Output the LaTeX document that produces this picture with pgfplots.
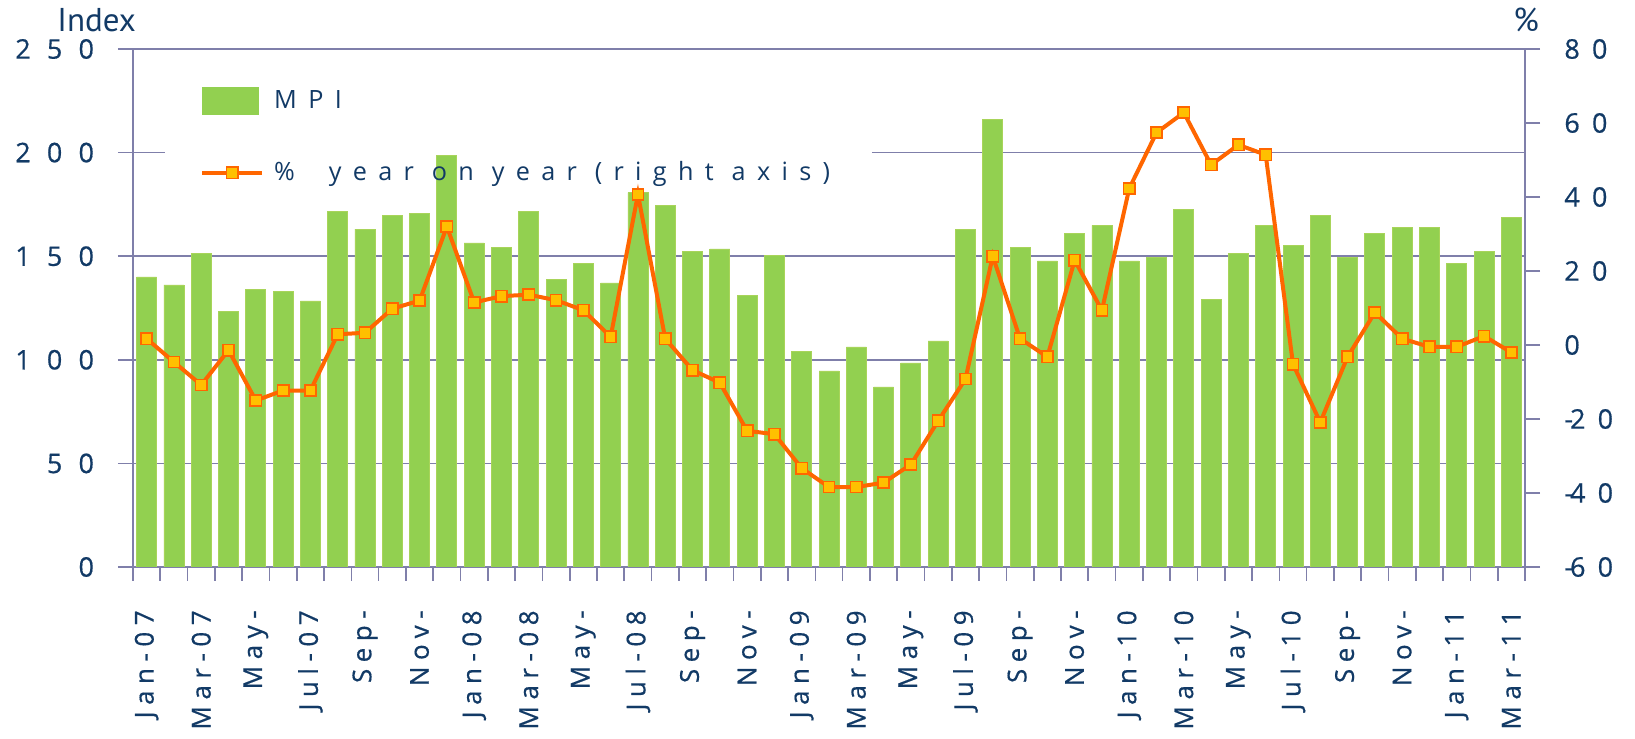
\documentclass[border=0pt]{standalone}
\usepackage{fontspec}
\usepackage{pgfplots}
\pgfplotsset{compat=1.18}
\setmainfont{Open Sans}
\newfontfamily\tickfont[LetterSpace=60, FakeBold=0.5]{Open Sans}
\newfontfamily\rtickfont[LetterSpace=45, FakeBold=0.5]{Open Sans}
\newfontfamily\xtickfont[LetterSpace=25, FakeBold=0.5]{Open Sans}
\newfontfamily\legfont[LetterSpace=45]{Open Sans}
\newfontfamily\labfont{PT Sans}
\definecolor{barg}{HTML}{92D050}
\definecolor{baredge}{HTML}{A8D45A}
\definecolor{lineor}{HTML}{FF6600}
\definecolor{markfill}{HTML}{FFC000}
\definecolor{navy}{HTML}{123A66}
\definecolor{axcol}{HTML}{7F7FAA}
\pgfplotsset{
  barlegend/.style={legend image code/.code={\fill[barg] (0pt,-6.75pt) rectangle (28pt,6.75pt);}},
  linelegend/.style={legend image code/.code={\draw[##1, mark repeat=2, mark phase=2] plot coordinates {(0pt,0pt) (15pt,0pt) (30pt,0pt)};}},
}
\begin{document}
\begin{tikzpicture}
\useasboundingbox (-66.5pt,-86pt) rectangle (751pt,283.5pt);
\begin{axis}[name=ax1, at={(0,0)}, anchor=south west, scale only axis,
  width=696pt, height=259pt,
  xmin=-0.5, xmax=50.5, ymin=0, ymax=250,
  ytick={0,50,100,150,200,250},
  xtick={0,2,...,50},
  xticklabels={Jan-07,Mar-07,May-,Jul-07,Sep-,Nov-,Jan-08,Mar-08,May-,Jul-08,Sep-,Nov-,Jan-09,Mar-09,May-,Jul-09,Sep-,Nov-,Jan-10,Mar-10,May-,Jul-10,Sep-,Nov-,Jan-11,Mar-11},
  minor xtick={-0.5,0.5,...,50.5},
  major x tick style={draw=none},
  minor tick length=7pt, major tick length=7.5pt,
  tick align=outside, xtick pos=bottom, ytick pos=left,
  axis line style={axcol, line width=0.8pt},
  tick style={axcol, line width=0.8pt},
  /pgf/number format/assume math mode=true,
  xticklabel style={rotate=90, anchor=east, inner sep=0pt, text=navy, font=\xtickfont\fontsize{13}{15}\selectfont},
  yticklabel style={anchor=east, inner sep=0pt, text=navy, font=\tickfont\fontsize{13.5}{15}\selectfont},
  xticklabel shift=14pt,
  yticklabel shift=11.8pt,
  ymajorgrids=false,
]
\draw[axcol, line width=0.8pt] (axis cs:-0.5,50) -- (axis cs:50.5,50);
\draw[axcol, line width=0.8pt] (axis cs:-0.5,100) -- (axis cs:50.5,100);
\draw[axcol, line width=0.8pt] (axis cs:-0.5,150) -- (axis cs:50.5,150);
\draw[axcol, line width=0.8pt] (axis cs:-0.5,200) -- (axis cs:0.67,200);
\draw[axcol, line width=0.8pt] (axis cs:26.57,200) -- (axis cs:50.5,200);
\addplot[ybar, bar width=10pt, fill=barg, draw=baredge, line width=0.4pt] coordinates {
(0,140.0) (1,136.1) (2,151.5) (3,123.4) (4,134.0) (5,133.2) (6,128.4) (7,171.8) (8,163.1) (9,169.7)
(10,170.7) (11,198.8) (12,156.4) (13,154.3) (14,171.8) (15,138.8) (16,146.6) (17,137.1) (18,180.7) (19,174.6)
(20,152.5) (21,153.5) (22,131.1) (23,150.4) (24,104.2) (25,94.6) (26,106.2) (27,86.9) (28,98.5) (29,109.1)
(30,163.1) (31,216.2) (32,154.3) (33,147.7) (34,161.0) (35,164.9) (36,147.7) (37,149.5) (38,172.6) (39,129.2)
(40,151.5) (41,164.9) (42,155.4) (43,169.7) (44,149.5) (45,161.0) (46,163.9) (47,163.9) (48,146.6) (49,152.5)
(50,168.8)};
\end{axis}
\begin{axis}[name=ax2, at={(0,0)}, anchor=south west, scale only axis,
  width=696pt, height=259pt,
  xmin=-0.5, xmax=50.5, ymin=-60, ymax=80,
  ytick={-60,-40,-20,0,20,40,60,80},
  yticklabels={{-\kern-1.5pt 60},{-\kern-1.5pt 40},{-\kern-1.5pt 20},0,20,40,60,80},
  axis x line=none, axis y line*=right, ytick pos=right,
  tick align=outside, major tick length=7.5pt,
  axis line style={axcol, line width=0.8pt},
  tick style={axcol, line width=0.8pt},
  /pgf/number format/assume math mode=true,
  yticklabel style={anchor=west, inner sep=0pt, text=navy, font=\rtickfont\fontsize{13.5}{15}\selectfont},
  yticklabel shift=12pt,
  legend style={at={(0.048,0.928)}, anchor=north west, draw=none, fill=none, inner sep=0pt,
    row sep=21pt, font=\legfont\fontsize{12.6}{14}\selectfont, text=navy,
    /tikz/every odd column/.style={column sep=3pt}},
  legend cell align=left,
]
\addlegendimage{barlegend}
\addlegendentry{MPI}
\addplot[lineor, line width=2pt, mark=square*,
  mark options={fill=markfill, draw=lineor, line width=0.8pt, solid}, mark size=2.8pt,
  linelegend]
coordinates {
(0,1.7) (1,-4.6) (2,-10.8) (3,-1.4) (4,-15.0) (5,-12.3) (6,-12.3) (7,2.9) (8,3.3) (9,9.8)
(10,12.0) (11,32.0) (12,11.5) (13,13.2) (14,13.6) (15,12.1) (16,9.4) (17,2.2) (18,40.7) (19,1.7)
(20,-6.8) (21,-10.2) (22,-23.2) (23,-24.1) (24,-33.3) (25,-38.4) (26,-38.4) (27,-37.2) (28,-32.3) (29,-20.5)
(30,-9.2) (31,24.0) (32,1.7) (33,-3.2) (34,22.9) (35,9.4) (36,42.3) (37,57.4) (38,62.8) (39,48.7)
(40,54.1) (41,51.4) (42,-5.2) (43,-20.9) (44,-3.2) (45,8.8) (46,1.7) (47,-0.5) (48,-0.5) (49,2.4)
(50,-2.0)};
\addlegendentry{\%\hspace{8pt} year on year (right axis)}
\end{axis}
\node[anchor=base west, inner sep=0pt, text=navy, font=\labfont\fontsize{16.5}{19}\selectfont] at ([xshift=-38pt,yshift=8.5pt]ax1.north west) {Index};
\node[anchor=base west, inner sep=0pt, text=navy, font=\labfont\fontsize{16.5}{19}\selectfont] at ([xshift=-6pt,yshift=8.5pt]ax1.north east) {\%};
\end{tikzpicture}
\end{document}
